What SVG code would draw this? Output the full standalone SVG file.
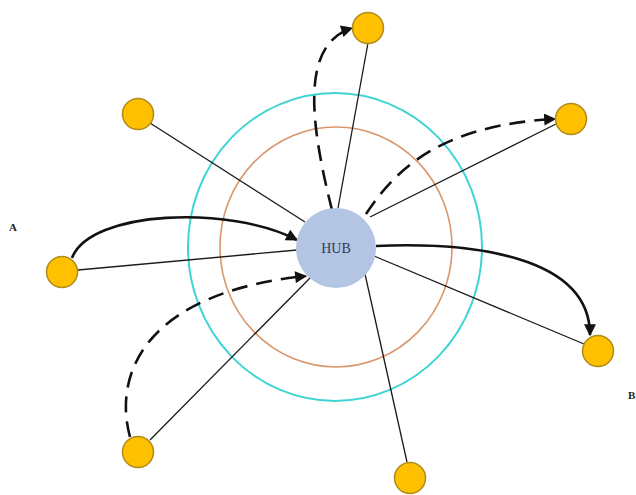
<svg xmlns="http://www.w3.org/2000/svg" width="636" height="495" viewBox="0 0 636 495">
<style>
.node{fill:#FFC000;stroke:#B08A1A;stroke-width:1.5}
.hub{fill:#B4C5E4;stroke:none}
.link{stroke:#1a1a1a;stroke-width:1.3;fill:none}
.flow{stroke:#111;stroke-width:2.6;fill:none;marker-end:url(#arr)}
.dash{stroke-dasharray:16 9}
.lbl{font-family:"Liberation Serif",serif;font-weight:bold;font-size:11px;fill:#222}
</style>
<defs>
<marker id="arr" viewBox="0 0 10 10" refX="9" refY="5" markerWidth="14" markerHeight="12" markerUnits="userSpaceOnUse" orient="auto">
<path d="M0,0 L10,5 L0,10 z" fill="#111"/>
</marker>
</defs>
<rect width="636" height="495" fill="#fff"/>
<g id="rings">
<ellipse cx="335" cy="247" rx="147" ry="154" fill="none" stroke="#3FD4D4" stroke-width="2"/>
<ellipse cx="336" cy="247" rx="116" ry="120" fill="none" stroke="#D9966C" stroke-width="1.6"/>
</g>
<g id="connectors">
<line class="link" x1="368" y1="43" x2="338" y2="208"/>
<line class="link" x1="150" y1="123" x2="305" y2="222"/>
<line class="link" x1="556" y1="124" x2="370" y2="217"/>
<line class="link" x1="78" y1="270" x2="297" y2="250"/>
<line class="link" x1="374" y1="256" x2="584" y2="344"/>
<line class="link" x1="150" y1="440" x2="312" y2="276"/>
<line class="link" x1="407" y1="462" x2="365" y2="274"/>
<path class="flow" d="M72,258 C90,210 230,205 297,240"/>
<path class="flow" d="M376,246 C470,242 590,255 590,335"/>
<path class="flow dash" d="M130,437 C112,370 150,292 306,276"/>
<path class="flow dash" d="M332,210 C312,130 298,45 352,28"/>
<path class="flow dash" d="M366,214 C395,170 440,125 555,119"/>
</g>
<g id="hub">
<circle class="hub" cx="336" cy="248" r="40"/>
<text x="336" y="253" text-anchor="middle" font-family="Liberation Serif, serif" font-size="14" fill="#2E3B55">HUB</text>
</g>
<g id="n-top"><circle class="node" cx="368" cy="28" r="15.5"/></g>
<g id="n-ul"><circle class="node" cx="138" cy="114" r="15.5"/></g>
<g id="n-ur"><circle class="node" cx="571" cy="119" r="15.5"/></g>
<g id="n-a"><circle class="node" cx="62" cy="272" r="15.5"/></g>
<g id="n-b"><circle class="node" cx="598" cy="351" r="15.5"/></g>
<g id="n-bl"><circle class="node" cx="138" cy="452" r="15.5"/></g>
<g id="n-bottom"><circle class="node" cx="410" cy="478" r="15.5"/></g>
<g id="labels">
<text class="lbl" x="9" y="231">A</text>
<text class="lbl" x="628" y="399">B</text>
</g>
</svg>
